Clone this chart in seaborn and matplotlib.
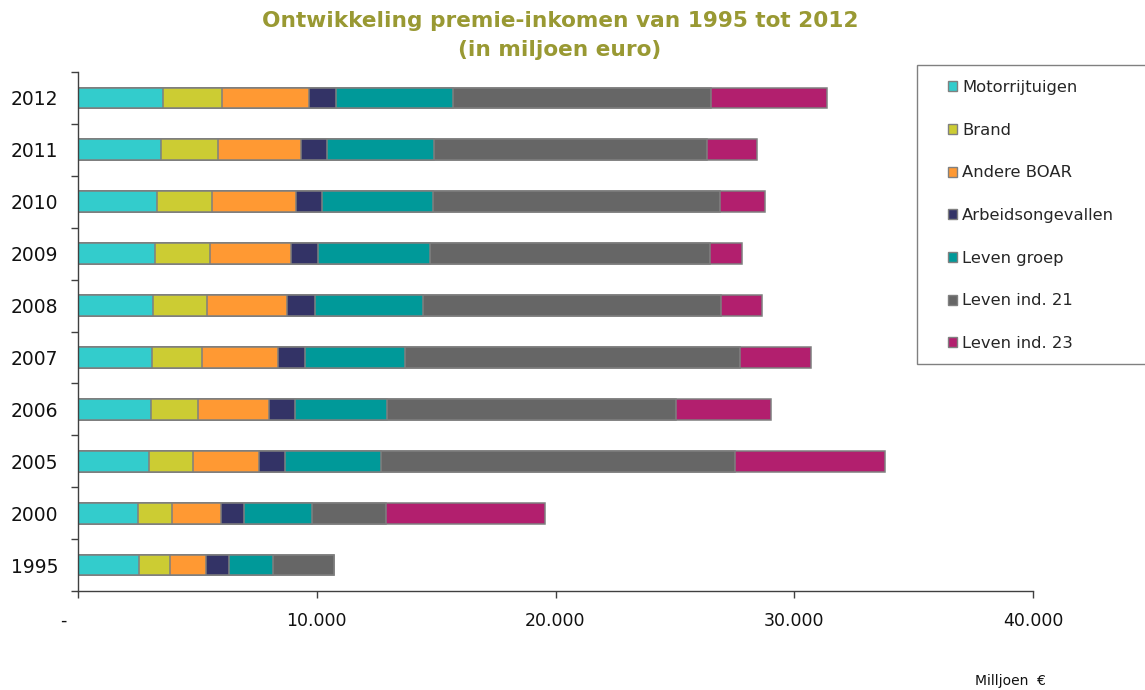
import matplotlib
matplotlib.use("Agg")
import matplotlib.pyplot as plt
import numpy as np
import pandas as pd
import seaborn as sns
from matplotlib.patches import Patch, Rectangle

# Premium income per branch (million euro), years listed top to bottom
years = ["2012", "2011", "2010", "2009", "2008", "2007", "2006", "2005", "2000", "1995"]
motorrijtuigen = [3540, 3460, 3300, 3220, 3130, 3090, 3040, 2970, 2520, 2540]
brand = [2490, 2390, 2300, 2300, 2260, 2120, 1970, 1840, 1410, 1330]
andere_boar = [3650, 3500, 3540, 3420, 3360, 3160, 3000, 2780, 2070, 1480]
arbeidsongevallen = [1130, 1060, 1080, 1120, 1170, 1130, 1090, 1060, 960, 960]
leven_groep = [4900, 4510, 4660, 4690, 4530, 4180, 3830, 4030, 2830, 1870]
leven_ind_21 = [10810, 11430, 12020, 11730, 12490, 14030, 12130, 14850, 3090, 2550]
leven_ind_23 = [4860, 2090, 1880, 1350, 1730, 2990, 3950, 6290, 6680, 0]

series_names = ["Motorrijtuigen", "Brand", "Andere BOAR", "Arbeidsongevallen",
                "Leven groep", "Leven ind. 21", "Leven ind. 23"]
series_values = [motorrijtuigen, brand, andere_boar, arbeidsongevallen,
                 leven_groep, leven_ind_21, leven_ind_23]
colors = ["#33CCCC", "#CCCC33", "#FF9933", "#333366", "#009999", "#666666", "#B21F6E"]

x_ticks = [0, 10000, 20000, 30000, 40000]
x_ticklabels = ["-     ", "10.000", "20.000", "30.000", "40.000"]

sns.set_style("ticks")
plt.rcParams["font.family"] = ["DejaVu Sans"]

W, H = 1145, 690
fig = plt.figure(figsize=(W / 100, H / 100), dpi=100)
ax = fig.add_axes([78 / W, 1 - 591 / H, (1033 - 78) / W, (591 - 72) / H])

# Stacked bars: draw cumulative totals from the outermost segment inward
df = pd.DataFrame({name: vals for name, vals in zip(series_names, series_values)})
df["year"] = years
cum = df[series_names].cumsum(axis=1)
edge = "#7F7F7F"
for name, col in reversed(list(zip(series_names, colors))):
    sns.barplot(x=cum[name], y=df["year"], order=years, orient="h", color=col,
                width=0.4, edgecolor=edge, linewidth=1.1, errorbar=None,
                saturation=1, ax=ax)

ax.set_xlim(0, 40000)
ax.set_ylim(9.5, -0.5)
ax.set_xlabel("")
ax.set_ylabel("")

ax.set_xticks(x_ticks)
ax.set_xticklabels(x_ticklabels)
ax.tick_params(axis="x", length=5, width=1, color="#404040", pad=10,
               labelsize=12.5, labelcolor="#111111")
ax.set_yticks(range(len(years)))
ax.set_yticklabels(years)
ax.tick_params(axis="y", which="major", length=0, pad=14, labelsize=13.5,
               labelcolor="#111111")
ax.set_yticks(np.arange(-0.5, len(years), 1.0), minor=True)
ax.tick_params(axis="y", which="minor", length=5, width=1, color="#404040")

for s in ["top", "right"]:
    ax.spines[s].set_visible(False)
for s in ["left", "bottom"]:
    ax.spines[s].set_color("#404040")
    ax.spines[s].set_linewidth(1)

# Title
title_color = "#999933"
fig.text(560 / W, 1 - 21 / H, "Ontwikkeling premie-inkomen van 1995 tot 2012",
         ha="center", va="center", fontsize=15.6, fontweight="bold", color=title_color)
fig.text(560 / W, 1 - 50 / H, "(in miljoen euro)",
         ha="center", va="center", fontsize=15.6, fontweight="bold", color=title_color)

# Legend box and entries
fig.patches.append(Rectangle((917 / W, 1 - 364 / H), (1150 - 917) / W, (364 - 65) / H,
                             transform=fig.transFigure, facecolor="white",
                             edgecolor="#808080", linewidth=1, zorder=1))
handles = [Patch(facecolor=c, edgecolor="#808080", linewidth=1) for c in colors]
leg = fig.legend(handles, series_names, loc="upper left",
                 bbox_to_anchor=(948 / W, 1 - 80 / H), frameon=False,
                 fontsize=11.8, handlelength=0.55, handleheight=0.55,
                 handletextpad=0.3, labelspacing=1.69, borderpad=0,
                 borderaxespad=0)
leg.set_zorder(2)

fig.text(1010 / W, 1 - 681 / H, "Milljoen  \u20ac", ha="center", va="center",
         fontsize=10, color="#111111")

fig.savefig("out.png", dpi=100, facecolor="white")
